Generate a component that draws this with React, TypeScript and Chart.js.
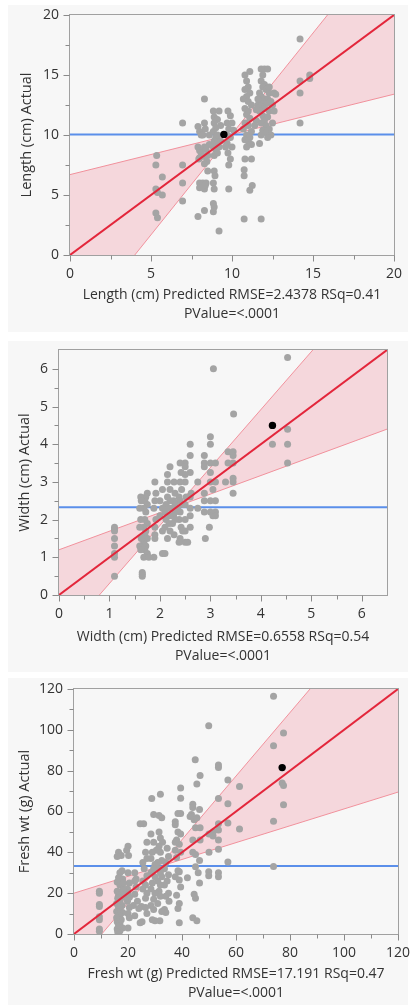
import React, { useEffect, useRef } from 'react';
import { Chart, registerables } from 'chart.js';
Chart.register(...registerables);

const FONT = "'Open Sans', 'Noto Sans', sans-serif";

// ---------- Panel 1: Length ----------
const lengthTicks = [0, 5, 10, 15, 20];
const lengthMinor = [2.5, 7.5, 12.5, 17.5];
const lengthMean = 10.05;
const lengthMeanPoint: [number, number][] = [[9.5, 10.05]];
const lengthFit: [number, number][] = [[0, 0], [20, 20]];
const lengthBandShallow: [number, number][] = [[0, 6.7], [20, 13.4]];
const lengthBandSteep: [number, number][] = [[0, -6.72], [20, 26.9]];
const lengthPoints: [number, number][] = [
  [14.2, 18.0], [14.2, 14.5], [14.2, 13.5], [14.2, 11.0], [14.8, 15.0], [14.8, 14.7],
  [5.35, 8.3], [5.3, 7.5], [5.3, 5.5], [5.4, 5.2], [5.3, 3.5], [5.4, 3.1], [5.7, 6.5], [5.7, 5.0],
  [6.95, 11.0], [6.95, 7.5], [6.95, 6.0], [6.95, 4.5],
  [7.9, 10.7], [8.0, 10.3], [8.1, 10.0], [7.9, 9.0], [8.0, 8.7], [8.1, 8.5], [8.0, 8.1], [7.95, 8.0],
  [8.3, 9.0], [8.4, 8.8], [8.3, 8.2], [8.45, 7.8], [8.3, 7.6], [8.5, 7.0], [8.0, 6.0], [8.2, 6.0],
  [8.4, 6.0], [8.0, 5.6], [8.3, 5.5], [8.35, 5.8], [8.3, 13.0], [8.3, 11.0], [8.35, 10.5], [8.2, 10.0],
  [7.9, 3.2], [8.3, 3.7], [8.5, 8.3], [8.6, 9.2], [8.6, 10.0],
  [8.85, 12.0], [9.2, 12.0], [8.9, 11.5], [9.1, 11.3], [8.9, 11.0], [9.0, 10.6], [8.85, 10.3], [9.0, 9.8],
  [8.9, 9.5], [9.1, 9.3], [8.85, 9.0], [9.0, 8.8], [9.2, 9.0], [8.9, 8.3], [9.1, 8.5], [8.9, 7.0],
  [8.95, 6.6], [8.85, 6.0], [8.9, 5.5], [8.85, 4.3], [8.9, 4.0], [8.85, 3.6], [9.2, 2.0], [9.1, 10.0],
  [9.3, 9.5], [9.3, 10.8],
  [9.75, 12.0], [9.9, 11.6], [9.7, 11.0], [10.0, 11.0], [9.8, 10.5], [9.7, 10.0], [9.9, 9.8], [9.7, 9.3],
  [9.6, 9.0], [10.0, 9.0], [9.75, 8.5], [9.9, 8.0], [9.8, 7.5], [9.8, 5.5], [10.1, 10.4],
  [10.8, 15.0], [11.1, 15.3], [10.9, 14.5], [11.0, 14.0], [10.8, 13.8], [11.1, 13.5], [10.9, 13.2],
  [10.7, 13.0], [11.0, 12.8], [11.2, 12.5], [10.8, 12.2], [11.0, 12.0], [10.9, 11.7], [11.1, 11.4],
  [10.8, 11.0], [11.0, 10.8], [10.7, 10.5], [11.2, 10.3], [10.9, 10.0], [11.1, 9.8], [10.8, 9.6],
  [11.0, 9.5], [11.2, 9.2], [10.9, 9.0], [10.8, 8.0], [11.2, 8.0], [10.75, 7.1], [10.75, 6.6],
  [11.25, 5.8], [11.1, 5.4], [10.75, 3.0], [11.5, 11.2], [11.4, 10.8], [11.5, 12.1], [11.6, 12.5],
  [11.8, 15.5], [12.0, 15.5], [12.2, 15.5], [11.8, 14.5], [12.0, 14.2], [11.9, 14.0], [12.1, 13.8],
  [11.7, 13.5], [12.3, 13.5], [11.8, 13.2], [12.0, 13.0], [12.2, 13.0], [11.9, 12.8], [12.1, 12.6],
  [12.5, 12.5], [11.8, 12.4], [12.0, 12.2], [12.3, 12.0], [11.7, 12.0], [12.6, 12.0], [11.9, 11.6],
  [12.2, 11.5], [12.0, 11.2], [11.8, 11.0], [12.1, 10.8], [12.3, 10.5], [11.9, 10.4], [12.1, 10.2],
  [11.8, 10.0], [12.4, 10.0], [12.2, 9.8], [11.7, 9.3], [11.8, 3.0], [12.6, 13.5], [12.5, 11.0],
  [12.4, 12.8], [11.6, 13.0], [12.3, 14.0], [11.9, 15.0], [12.7, 13.4],
];

// ---------- Panel 2: Width ----------
const widthTicks = [0, 1, 2, 3, 4, 5, 6];
const widthMinor = [0.5, 1.5, 2.5, 3.5, 4.5, 5.5];
const widthMean = 2.33;
const widthMeanPoint: [number, number][] = [[4.23, 4.5]];
const widthFit: [number, number][] = [[0, 0], [6.5, 6.5]];
const widthBandShallow: [number, number][] = [[0, 1.2], [6.5, 4.4]];
const widthBandSteep: [number, number][] = [[0, -1.23], [6.5, 8.76]];
const widthPoints: [number, number][] = [
  [4.53, 6.3], [3.06, 6.0], [3.46, 4.8], [4.23, 4.0], [4.53, 4.4], [4.53, 4.0], [4.53, 3.5],
  [3.45, 3.8], [3.45, 3.7], [3.45, 3.5], [3.45, 3.1], [3.45, 3.0], [3.45, 2.7], [3.35, 3.8], [3.35, 3.5], [3.3, 3.0],
  [3.0, 4.2], [3.0, 4.0], [3.0, 3.5], [3.0, 3.25], [3.0, 3.0], [3.05, 2.8], [3.0, 2.5], [3.0, 2.2], [3.05, 2.1], [2.98, 1.8],
  [3.1, 3.5], [3.1, 3.0], [3.1, 2.5], [3.1, 2.2], [3.1, 2.1],
  [2.88, 3.7], [2.88, 3.5], [2.88, 3.4], [2.88, 2.7], [2.88, 2.5], [2.88, 2.2], [2.9, 1.5], [2.75, 3.0], [2.75, 2.3],
  [2.6, 4.0], [2.6, 3.7], [2.6, 3.25], [2.62, 2.7], [2.6, 2.6], [2.6, 2.3], [2.6, 2.1], [2.6, 1.8],
  [2.5, 3.5], [2.5, 3.4], [2.5, 3.2], [2.5, 3.0], [2.52, 2.6], [2.5, 2.4], [2.5, 2.0], [2.5, 1.7], [2.5, 1.4], [2.55, 1.4],
  [2.4, 3.5], [2.42, 3.25], [2.4, 3.0], [2.43, 2.8], [2.38, 2.6], [2.4, 2.5], [2.45, 2.4], [2.35, 2.3], [2.4, 2.2],
  [2.38, 2.0], [2.42, 1.8], [2.4, 1.5], [2.38, 1.4], [2.45, 1.7],
  [2.28, 3.0], [2.3, 2.7], [2.27, 2.5], [2.3, 2.4], [2.25, 2.3], [2.3, 2.2], [2.27, 2.1], [2.3, 2.0], [2.25, 1.9], [2.28, 1.6],
  [2.2, 3.4], [2.15, 3.2], [2.15, 3.0], [2.2, 2.8], [2.15, 2.6], [2.2, 2.5], [2.12, 2.4], [2.18, 2.3], [2.1, 2.2],
  [2.2, 2.1], [2.12, 2.0], [2.18, 1.9], [2.1, 1.8], [2.2, 1.7], [2.15, 1.5], [2.1, 1.1], [2.05, 1.1], [2.05, 2.8],
  [2.0, 2.5], [2.05, 2.3], [2.0, 2.1], [2.05, 1.7],
  [1.9, 3.0], [1.92, 2.7], [1.9, 2.5], [1.88, 2.3], [1.92, 2.0], [1.9, 1.8], [1.9, 1.6], [1.9, 1.5], [1.88, 1.0],
  [1.75, 2.7], [1.72, 2.6], [1.7, 2.5], [1.75, 2.4], [1.68, 2.3], [1.72, 2.2], [1.7, 2.0], [1.75, 1.9], [1.68, 1.8],
  [1.72, 1.7], [1.7, 1.6], [1.75, 1.5], [1.68, 1.4], [1.72, 1.3], [1.7, 1.2], [1.75, 1.1], [1.68, 1.0], [1.78, 1.0],
  [1.62, 2.6], [1.63, 2.5], [1.6, 2.3], [1.62, 2.0], [1.6, 1.8], [1.63, 1.5], [1.6, 1.3], [1.62, 1.2], [1.65, 0.6],
  [1.65, 0.5], [1.65, 0.55],
  [1.1, 1.8], [1.1, 1.75], [1.1, 1.7], [1.1, 1.5], [1.1, 1.3], [1.1, 1.1], [1.1, 1.0], [1.1, 0.5],
];

// ---------- Panel 3: Fresh wt ----------
const freshTicks = [0, 20, 40, 60, 80, 100, 120];
const freshMinor = [10, 30, 50, 70, 90, 110];
const freshMean = 33.3;
const freshMeanPoint: [number, number][] = [[77.1, 81.5]];
const freshFit: [number, number][] = [[0, 0], [120, 120]];
const freshBandShallow: [number, number][] = [[0, 20], [120, 69.5]];
const freshBandSteep: [number, number][] = [[0, -16.0], [120, 170.7]];
const freshPoints: [number, number][] = [
  [73.9, 116.4], [49.9, 102], [77.6, 98.4], [73.9, 92.2], [77.1, 74], [77.6, 72.7], [77.6, 63.3], [73.9, 55.2],
  [73.9, 33.1], [61.3, 72.3], [61.3, 51.4], [57, 75.4], [57, 63.8], [57, 54.4], [57, 35.3],
  [53.5, 82.8], [53.5, 81.5], [53.5, 66.4], [53.5, 54], [53.5, 51], [53.5, 46], [53.5, 41.5], [53.5, 30], [53.5, 28],
  [51.5, 50], [51.5, 48], [50, 49], [50, 40], [49.9, 30.5], [49.9, 28.5],
  [44.9, 85.4], [45.5, 73.5], [46.7, 77.6], [46.5, 61], [44, 63.5], [44, 62], [43.5, 58.5], [43, 57.5], [44.5, 56],
  [45.5, 57], [45, 52], [46.7, 52], [46.7, 46], [44, 46], [44, 40], [45, 39], [46.5, 36], [45, 33], [46, 30],
  [46.5, 25], [44.5, 19.5], [45, 17.5], [44, 8], [45.5, 6.5], [42, 27.5],
  [39.5, 71.5], [39.5, 66.5], [38.5, 59], [39.5, 59], [37.5, 55], [37.5, 53.5], [38.5, 50], [39.5, 49], [38, 46],
  [39, 44], [37.5, 41], [39.5, 40], [38, 37.5], [38.5, 31], [39, 30.5], [37.5, 28], [39, 26.5], [39.5, 23], [38, 19],
  [39, 15], [38.5, 12.5], [39, 5.5], [37.5, 45],
  [34.5, 42], [35, 38], [34, 35], [33.5, 32], [35, 29], [34.5, 26], [33.5, 24], [35, 20], [34, 18.5], [35.2, 16],
  [33.5, 12], [34, 10.5],
  [32, 68.4], [31.5, 58], [32.5, 57], [31.5, 50], [32, 47], [32.8, 45], [31.5, 43], [32, 40], [32.5, 36], [31, 35],
  [31.5, 32], [32, 30], [32.5, 28], [31, 26], [32, 24], [31.5, 21], [32, 18.5], [31, 15], [32.5, 11], [31.8, 6.5],
  [28.8, 66.4], [29.5, 58.5], [29.5, 45], [28.5, 49], [30.5, 41], [29, 40], [28.5, 37], [30, 34], [29.5, 32],
  [28.5, 30], [30, 28], [29, 25], [28.5, 22], [30, 20], [29.5, 17], [28.5, 14], [29.5, 12], [29, 7], [30, 6.5],
  [25.8, 54], [24.5, 54], [27, 45], [26.5, 40], [27, 37], [25.5, 35], [26, 32], [27, 28.5], [25.5, 26], [26.5, 24],
  [25.5, 22], [27, 20], [26.5, 17.5], [25, 13.5], [26.5, 13], [24, 12.5], [27, 10], [25.2, 6], [24.5, 5.5],
  [22.5, 30], [23, 27], [22.5, 26], [23, 23], [22.5, 19.5], [23.5, 16], [22, 14], [22.5, 9],
  [20, 43], [19.5, 41], [20.2, 38.5], [20, 30], [20.5, 25], [19.8, 22], [20, 20], [20.5, 18], [19.8, 16], [20.5, 13],
  [20, 10], [20.5, 8], [20, 3],
  [16.5, 40], [17.5, 38.5], [16, 38], [17.8, 31], [17, 30], [16.5, 27.5], [18, 27], [16, 25.5], [17, 24], [18.2, 22],
  [16, 21], [17.2, 20], [16.5, 19], [18, 18], [16.2, 17.5], [17, 16], [15.8, 15], [17.8, 14], [16.5, 13], [17, 12],
  [15.8, 11], [18, 10.5], [16.5, 10], [17, 9], [15.8, 8], [17.5, 7], [16, 6], [17, 5], [16.5, 4], [18, 3], [16, 2.5],
  [17, 1.5], [16.2, 1], [18.3, 19], [18.3, 25],
  [9.4, 21], [9.4, 20], [9.4, 14.4], [9.4, 13.5], [9.4, 8.5], [9.4, 7], [9.4, 2.4], [9.4, 1.3],
];

type Pair = [number, number];
type PanelCfg = {
  box: { left: number; top: number; width: number; height: number };
  canvasWidth: number;
  plot: { left: number; top: number; right: number; bottom: number };
  range: [number, number];
  major: number[];
  minor: number[];
  points: Pair[];
  meanPoint: Pair[];
  mean: number;
  fit: Pair[];
  bandShallow: Pair[];
  bandSteep: Pair[];
  yTitle: string;
  xTitle: string[];
  yTitlePad: number;
  xTitlePad: number;
};

const xy = (arr: Pair[]) => arr.map(([x, y]) => ({ x, y }));

const framePlugin = {
  id: 'frame',
  afterDraw(chart: any, _args: any, opts: any) {
    const { ctx, chartArea: a, scales } = chart;
    const xs = scales.x, ys = scales.y;
    ctx.save();
    ctx.strokeStyle = '#a0a0a0';
    ctx.lineWidth = 1;
    const L = Math.round(a.left) - 0.5, R = Math.round(a.right) + 0.5;
    const T = Math.round(a.top) - 0.5, B = Math.round(a.bottom) + 0.5;
    ctx.strokeRect(L, T, R - L, B - T);
    ctx.strokeStyle = '#8a8a8a';
    ctx.beginPath();
    const mark = (v: number, len: number) => {
      const px = Math.round(xs.getPixelForValue(v)) + 0.5;
      ctx.moveTo(px, B); ctx.lineTo(px, B + len);
      const py = Math.round(ys.getPixelForValue(v)) + 0.5;
      ctx.moveTo(L, py); ctx.lineTo(L - len, py);
    };
    (opts.major || []).forEach((v: number) => mark(v, 6));
    (opts.minor || []).forEach((v: number) => mark(v, 4));
    ctx.stroke();
    ctx.restore();
  },
};

function Panel({ cfg }: { cfg: PanelCfg }) {
  const ref = useRef<HTMLCanvasElement>(null);
  useEffect(() => {
    if (!ref.current) return;
    const { plot, box, canvasWidth } = cfg;
    const tickFont = { size: 14, family: FONT };
    const chart = new Chart(ref.current, {
      type: 'line',
      data: {
        datasets: [
          { data: xy(cfg.meanPoint), showLine: false, pointRadius: 3.7, pointBackgroundColor: '#000', pointBorderWidth: 0, order: 0 } as any,
          { data: xy(cfg.fit), borderColor: '#e3263b', borderWidth: 2, pointRadius: 0, fill: false, order: 1 },
          { data: xy(cfg.points), showLine: false, pointRadius: 3.5, pointBackgroundColor: '#a4a4a4', pointBorderWidth: 0, order: 2 },
          { data: [{ x: cfg.range[0], y: cfg.mean }, { x: cfg.range[1], y: cfg.mean }], borderColor: '#5b8fea', borderWidth: 2, pointRadius: 0, fill: false, order: 3 },
          { data: xy(cfg.bandShallow), borderColor: '#f1919c', borderWidth: 1, pointRadius: 0, fill: false, order: 4 },
          { data: xy(cfg.bandSteep), borderColor: '#f1919c', borderWidth: 1, pointRadius: 0, fill: '-1', backgroundColor: 'rgba(240,120,140,0.25)', order: 5 },
        ],
      },
      options: {
        animation: false,
        responsive: false,
        devicePixelRatio: 1,
        layout: { padding: { left: 0, top: plot.top, right: canvasWidth - plot.right, bottom: 0 } },
        plugins: { legend: { display: false }, tooltip: { enabled: false }, frame: { major: cfg.major, minor: cfg.minor } } as any,
        scales: {
          x: {
            type: 'linear', min: cfg.range[0], max: cfg.range[1],
            afterBuildTicks: (s: any) => { s.ticks = cfg.major.map((v) => ({ value: v })); },
            afterFit: (s: any) => { s.height = box.height - plot.bottom; s.paddingLeft = 0; s.paddingRight = 0; },
            ticks: { padding: 11, font: tickFont, color: '#333', maxRotation: 0, autoSkip: false, callback: (v: any) => String(v) },
            grid: { display: false, drawTicks: false },
            border: { display: false },
            title: { display: true, text: cfg.xTitle, color: '#333', font: { size: 14, family: FONT, lineHeight: 1.36 }, padding: { top: 0, bottom: cfg.xTitlePad } },
          },
          y: {
            type: 'linear', min: cfg.range[0], max: cfg.range[1],
            afterBuildTicks: (s: any) => { s.ticks = cfg.major.map((v) => ({ value: v })); },
            afterFit: (s: any) => { s.width = plot.left; s.paddingTop = 0; s.paddingBottom = 0; },
            ticks: { padding: 11, font: tickFont, color: '#333', autoSkip: false, callback: (v: any) => String(v) },
            grid: { display: false, drawTicks: false },
            border: { display: false },
            title: { display: true, text: cfg.yTitle, color: '#333', font: { size: 14.5, family: FONT, lineHeight: 1.2 }, padding: { top: cfg.yTitlePad, bottom: 0 } },
          },
        },
      } as any,
      plugins: [framePlugin],
    });
    return () => chart.destroy();
  }, [cfg]);
  const { box, canvasWidth } = cfg;
  return (
    <>
      <div style={{ position: 'absolute', left: box.left, top: box.top, width: box.width, height: box.height, background: '#f7f7f7' }} />
      <canvas ref={ref} width={canvasWidth} height={box.height}
        style={{ position: 'absolute', left: box.left, top: box.top, width: canvasWidth, height: box.height }} />
    </>
  );
}

const panels: PanelCfg[] = [
  {
    box: { left: 8, top: 5, width: 400, height: 327 }, canvasWidth: 402,
    plot: { left: 62, top: 10, right: 386, bottom: 250 },
    range: [0, 20], major: lengthTicks, minor: lengthMinor,
    points: lengthPoints, meanPoint: lengthMeanPoint, mean: lengthMean, fit: lengthFit,
    bandShallow: lengthBandShallow, bandSteep: lengthBandSteep,
    yTitle: 'Length (cm) Actual', xTitle: ['Length (cm) Predicted RMSE=2.4378 RSq=0.41', 'PValue=<.0001'],
    yTitlePad: 10.6, xTitlePad: 8.5,
  },
  {
    box: { left: 8, top: 341, width: 400, height: 331 }, canvasWidth: 402,
    plot: { left: 51, top: 9, right: 379, bottom: 254 },
    range: [0, 6.5], major: widthTicks, minor: widthMinor,
    points: widthPoints, meanPoint: widthMeanPoint, mean: widthMean, fit: widthFit,
    bandShallow: widthBandShallow, bandSteep: widthBandSteep,
    yTitle: 'Width (cm) Actual', xTitle: ['Width (cm) Predicted RMSE=0.6558 RSq=0.54', 'PValue=<.0001'],
    yTitlePad: 8.3, xTitlePad: 6.8,
  },
  {
    box: { left: 8, top: 678, width: 400, height: 327 }, canvasWidth: 402,
    plot: { left: 66, top: 11, right: 390, bottom: 256 },
    range: [0, 120], major: freshTicks, minor: freshMinor,
    points: freshPoints, meanPoint: freshMeanPoint, mean: freshMean, fit: freshFit,
    bandShallow: freshBandShallow, bandSteep: freshBandSteep,
    yTitle: 'Fresh wt (g) Actual', xTitle: ['Fresh wt (g) Predicted RMSE=17.191 RSq=0.47', 'PValue=<.0001'],
    yTitlePad: 8.3, xTitlePad: 2.2,
  },
];

export default function App() {
  return (
    <div style={{ position: 'absolute', left: 0, top: 0, width: 410, height: 1005, background: '#fff' }}>
      {panels.map((p, i) => <Panel key={i} cfg={p} />)}
    </div>
  );
}
